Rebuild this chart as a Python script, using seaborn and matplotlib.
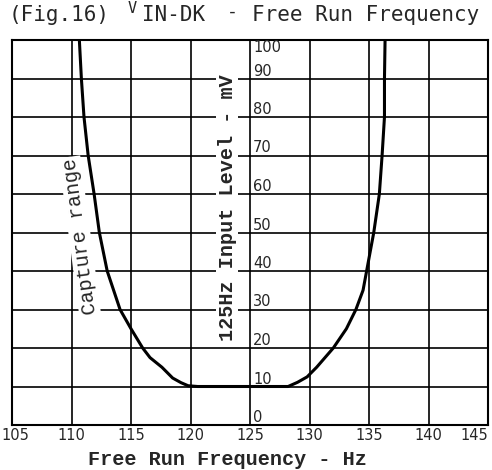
import numpy as np
import pandas as pd
import matplotlib
matplotlib.use("Agg")
import matplotlib.pyplot as plt
import matplotlib.transforms as mtransforms
import seaborn as sns

# curve (Hz, mV)
freq = [110.66, 110.83, 111.05, 111.4, 111.9, 112.34, 113.0, 114.08, 115.0, 115.98,
        116.6, 117.6, 118.5, 119.2, 119.8, 120.6, 124.0, 128.2, 129.0, 129.8,
        130.6, 132.0, 133.1, 133.9, 134.5, 134.8, 135.4, 135.87, 136.1, 136.3,
        136.3, 136.35]
level = [100, 90, 80, 70, 60, 50, 40, 30, 25, 20,
         17.5, 15, 12.2, 11, 10.2, 10, 10, 10, 11.1, 12.5,
         15, 20, 25, 30, 35, 40, 50, 60, 70, 80,
         90, 100]

x_ticks = [105, 110, 115, 120, 125, 130, 135, 140, 145]
y_ticks = [0, 10, 20, 30, 40, 50, 60, 70, 80, 90, 100]

df = pd.DataFrame({'freq': freq, 'level': level})

sns.set_style('white')
plt.rcParams['font.family'] = ['DejaVu Sans Mono', 'DejaVu Sans']

W, H = 492, 470
fig = plt.figure(figsize=(W / 100, H / 100), dpi=100)
ax = fig.add_axes([12/W, 45/H, 476/W, 385/H])

sns.lineplot(data=df, x='freq', y='level', sort=False, estimator=None,
             color='black', linewidth=2.2, ax=ax, zorder=5)
ax.lines[0].set_solid_joinstyle('round')

ax.set_xlim(105, 145)
ax.set_ylim(0, 100)
ax.set_xticks(x_ticks)
ax.set_yticks(y_ticks)
ax.set_xticklabels([str(t) for t in x_ticks], fontsize=10.5, family='DejaVu Sans')
ax.set_yticklabels([])
ax.tick_params(length=0, pad=2)
ax.grid(True, color='black', linewidth=1.2)
for s in ax.spines.values():
    s.set_color('black')
    s.set_linewidth(1.5)

# keep the edge tick labels inside the picture
labels = ax.get_xticklabels()
labels[0].set_transform(labels[0].get_transform() +
                        mtransforms.ScaledTranslation(3/100, 0, fig.dpi_scale_trans))
labels[-1].set_horizontalalignment('right')

# y tick labels sit on the 125 Hz line
for v in y_ticks[:-1]:
    ax.text(125.25, v, str(v), fontsize=10.5, family='DejaVu Sans',
            ha='left', va='bottom', zorder=6)
ax.text(125.25, 100, '100', fontsize=10.5, family='DejaVu Sans',
        ha='left', va='top', zorder=6)

ax.set_ylabel('')
ax.set_xlabel('Free Run Frequency - Hz', family='Liberation Mono',
              fontweight='bold', fontsize=14.5)
ax.xaxis.set_label_coords((227 - 12) / 476, -0.065)

ax.text(123.1, 56.5, '125Hz Input Level - mV', rotation=90, ha='center',
        va='center', family='Liberation Mono', fontweight='bold', fontsize=14.5,
        bbox=dict(facecolor='white', edgecolor='none', pad=1), zorder=4)

ax.text(110.7, 49, 'Capture range', rotation=97.5, ha='center', va='center',
        family='Liberation Mono', fontsize=14.5,
        bbox=dict(facecolor='white', edgecolor='none', pad=1), zorder=4)

# title pieces (x in pixels, baseline in pixels from top)
def title_text(s, x, base, size):
    fig.text(x / W, 1 - base / H, s, fontsize=size, ha='left', va='baseline')

title_text('(Fig.16)', 9, 21, 15)
title_text('V', 128, 13, 11)
title_text('IN-DK', 142, 21, 15)
title_text('-', 227, 17, 13)
title_text('Free Run Frequency', 252, 21, 15)

fig.savefig('out.png', dpi=100)
